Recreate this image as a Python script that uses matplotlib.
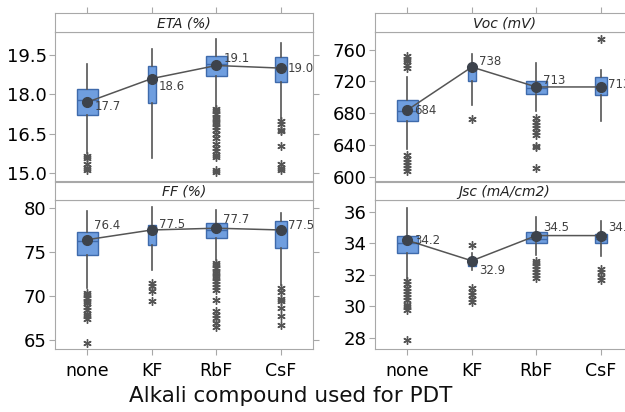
import matplotlib
matplotlib.use("Agg")
import matplotlib.pyplot as plt

categories = ["none", "KF", "RbF", "CsF"]
box_widths = [0.33, 0.13, 0.33, 0.19]

# ETA (%)
eta_q1 = [17.22, 17.67, 18.69, 18.46]
eta_med = [17.77, 18.6, 19.15, 19.05]
eta_q3 = [18.22, 19.09, 19.46, 19.41]
eta_lo = [15.75, 15.57, 17.51, 17.07]
eta_hi = [19.15, 19.73, 20.1, 19.97]
eta_fliers = [
    [15.65, 15.55, 15.35, 15.2, 15.1],
    [],
    [17.45, 17.35, 17.25, 17.15, 17.05, 16.95, 16.85, 16.75, 16.65, 16.5,
     16.35, 16.1, 15.95, 15.85, 15.7, 15.6, 15.1, 15.05],
    [16.97, 16.85, 16.64, 16.6, 16.04, 15.33, 15.2, 15.1],
]
eta_mean = [17.7, 18.6, 19.1, 19.0]

# Voc (mV)
voc_q1 = [670.6, 720.5, 704.7, 703.0]
voc_med = [683.0, 737.0, 712.0, 712.0]
voc_q3 = [696.4, 741.0, 720.5, 726.0]
voc_lo = [635.0, 690.0, 683.0, 670.6]
voc_hi = [726.0, 753.8, 743.0, 734.0]
voc_fliers = [
    [751.7, 748.0, 745.0, 741.0, 737.0, 627.0, 623.0, 619.0, 615.0, 611.0, 607.0],
    [672.7],
    [673.5, 669.4, 665.0, 661.0, 657.0, 652.8, 639.5, 637.5, 611.0],
    [773.0],
]
voc_mean = [684, 738, 713, 713]

# FF (%)
ff_q1 = [74.68, 75.8, 76.6, 75.4]
ff_med = [76.2, 77.3, 77.5, 77.4]
ff_q3 = [77.27, 78.1, 78.3, 78.5]
ff_lo = [70.9, 73.0, 74.1, 71.3]
ff_hi = [79.6, 80.1, 79.8, 79.4]
ff_fliers = [
    [70.4, 70.1, 69.8, 69.5, 69.2, 68.8, 68.4, 68.0, 67.7, 67.4, 64.7],
    [71.45, 71.1, 70.6, 69.4],
    [73.8, 73.5, 73.2, 72.9, 72.6, 72.3, 72.0, 71.7, 71.4, 71.0, 70.7,
     69.6, 68.3, 67.9, 67.5, 67.0, 66.5],
    [70.9, 70.5, 69.7, 69.5, 68.6, 67.7, 66.7],
]
ff_mean = [76.4, 77.5, 77.7, 77.5]

# Jsc (mA/cm2)
jsc_q1 = [33.37, 32.6, 34.0, 34.0]
jsc_med = [34.04, 32.75, 34.3, 34.3]
jsc_q3 = [34.46, 32.9, 34.7, 34.6]
jsc_lo = [31.75, 32.3, 33.26, 33.2]
jsc_hi = [36.25, 33.4, 35.7, 35.4]
jsc_fliers = [
    [31.6, 31.4, 31.2, 31.0, 30.8, 30.6, 30.4, 30.1, 29.95, 29.8, 27.9],
    [33.9, 31.15, 30.95, 30.75, 30.5, 30.3],
    [32.9, 32.75, 32.55, 32.4, 32.2, 32.0, 31.8],
    [32.4, 32.2, 31.9, 31.7],
]
jsc_mean = [34.2, 32.9, 34.5, 34.5]

panels = [
    dict(title="ETA (%)", q1=eta_q1, med=eta_med, q3=eta_q3, lo=eta_lo, hi=eta_hi,
         fliers=eta_fliers, mean=eta_mean, fmt="{:.1f}",
         ylim=(14.69, 20.38), yticks=[15.0, 16.5, 18.0, 19.5], yfmt="{:.1f}",
         dy=[-3, -6, 5, 0], pos=(0.088, 0.5607), strip=0.0461),
    dict(title="Voc (mV)", q1=voc_q1, med=voc_med, q3=voc_q3, lo=voc_lo, hi=voc_hi,
         fliers=voc_fliers, mean=voc_mean, fmt="{:d}",
         ylim=(595, 782), yticks=[600, 640, 680, 720, 760], yfmt="{:d}",
         dy=[0, 4, 5, 2], pos=(0.6, 0.5607), strip=0.0461),
    dict(title="FF (%)", q1=ff_q1, med=ff_med, q3=ff_q3, lo=ff_lo, hi=ff_hi,
         fliers=ff_fliers, mean=ff_mean, fmt="{:.1f}",
         ylim=(64.0, 80.9), yticks=[65, 70, 75, 80], yfmt="{:d}",
         dy=[10, 4, 6, 3], pos=(0.088, 0.1529), strip=0.0437),
    dict(title="Jsc (mA/cm2)", q1=jsc_q1, med=jsc_med, q3=jsc_q3, lo=jsc_lo, hi=jsc_hi,
         fliers=jsc_fliers, mean=jsc_mean, fmt="{:.1f}",
         ylim=(27.3, 36.76), yticks=[28, 30, 32, 34, 36], yfmt="{:d}",
         dy=[0, -7, 6, 6], pos=(0.6, 0.1529), strip=0.0437),
]

frame_col = "#a8a8a8"
box_face = "#6f9edf"
box_edge = "#3e6aab"
dark = "#555555"

fig = plt.figure(figsize=(6.25, 4.12), dpi=100)
W, H = 0.413, 0.3617

for i, p in enumerate(panels):
    x0, y0 = p["pos"]
    ax = fig.add_axes([x0, y0, W, H])
    sax = fig.add_axes([x0, y0 + H, W, p["strip"]])

    stats = []
    for k in range(4):
        stats.append(dict(med=p["med"][k], q1=p["q1"][k], q3=p["q3"][k],
                          whislo=p["lo"][k], whishi=p["hi"][k], fliers=p["fliers"][k]))
    ax.bxp(stats, positions=range(4), widths=box_widths, patch_artist=True,
           showcaps=False,
           boxprops=dict(facecolor=box_face, edgecolor=box_edge, linewidth=1),
           medianprops=dict(color=box_edge, linewidth=1),
           whiskerprops=dict(color=dark, linewidth=1.2),
           flierprops=dict(marker=(6, 2, 0), markersize=6, markeredgecolor=dark,
                           markeredgewidth=1.0, linestyle="none"))
    ax.plot(range(4), p["mean"], color=dark, lw=1.1, marker="o", markersize=7,
            markerfacecolor="#3d434c", markeredgecolor="#3d434c", zorder=5)
    for k in range(4):
        ax.annotate(p["fmt"].format(p["mean"][k]), (k, p["mean"][k]),
                    xytext=(5, p["dy"][k]), textcoords="offset points",
                    ha="left", va="center", fontsize=8.5, color="#404040", zorder=6)

    ax.set_xlim(-0.5, 3.5)
    ax.set_ylim(*p["ylim"])
    ax.set_yticks(p["yticks"])
    ax.set_yticklabels([p["yfmt"].format(v) for v in p["yticks"]], fontsize=13)
    ax.set_xticks(range(4))
    if i >= 2:
        ax.set_xticklabels(categories, fontsize=12.5)
    else:
        ax.set_xticklabels([])
        ax.tick_params(axis="x", length=0)
    ax.tick_params(axis="both", direction="out", color=frame_col, length=4, pad=2)
    ax.tick_params(axis="x", pad=5)
    ax.tick_params(axis="y", right=True, labelright=False)
    for s in ax.spines.values():
        s.set_color(frame_col)

    sax.set_xlim(-0.5, 3.5)
    sax.set_yticks([])
    sax.set_xticks(range(4))
    sax.set_xticklabels([])
    if i < 2:
        sax.tick_params(axis="x", top=True, bottom=False, direction="out",
                        color=frame_col, length=4)
    else:
        sax.tick_params(axis="x", length=0)
    for s in sax.spines.values():
        s.set_color(frame_col)
    sax.text(0.5, 0.45, p["title"], transform=sax.transAxes, ha="center", va="center",
             fontsize=10, style="italic", color="#222222")

fig.text(0.465, 0.038, "Alkali compound used for PDT", ha="center", va="center",
         fontsize=15.5, color="#111111")

fig.savefig("out.png", dpi=100)
